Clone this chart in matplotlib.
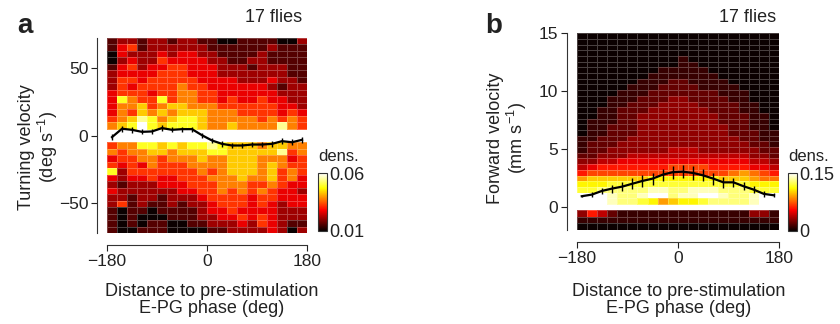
import numpy as np
import matplotlib
matplotlib.use('Agg')
import matplotlib.pyplot as plt

plt.rcParams['font.family'] = ['Liberation Sans', 'DejaVu Sans']
plt.rcParams['font.size'] = 13
plt.rcParams['mathtext.fontset'] = 'custom'
plt.rcParams['mathtext.rm'] = 'Liberation Sans'
plt.rcParams['mathtext.default'] = 'regular'
plt.rcParams['text.color'] = '#222222'
plt.rcParams['axes.labelcolor'] = '#222222'
plt.rcParams['xtick.color'] = '#222222'
plt.rcParams['ytick.color'] = '#222222'
plt.rcParams['xtick.labelsize'] = 12.5
plt.rcParams['ytick.labelsize'] = 12.5

# ---- data ----
phase = [-171, -153, -135, -117, -99, -81, -63, -45, -27, -9,
         9, 27, 45, 63, 81, 99, 117, 135, 153, 171]
phase_edges = [-180, -162, -144, -126, -108, -90, -72, -54, -36, -18, 0,
               18, 36, 54, 72, 90, 108, 126, 144, 162, 180]

# panel a: density levels, 0..9 spans 0.01..0.06, rows listed top -> bottom
turn_top_levels = [
    "12212212211001111002",
    "13412222221111112111",
    "03222323322111121111",
    "02322433332211221111",
    "13423344333222122211",
    "23333444333222222211",
    "24434444433332223221",
    "24344445443333332122",
    "34443445544333333222",
    "37544745544343343322",
    "35564566555444444332",
    "35465656665554444343",
    "45687567765555545454",
    "56797677765565555854",
]
turn_bottom_levels = [
    "45577676778766656655",
    "54556656667766666845",
    "34455455565566655534",
    "43435444555566656544",
    "72444444454566656454",
    "32334334445556556453",
    "21222333444555445433",
    "32222223344545454332",
    "22122122234444344333",
    "24121121223444343233",
    "10110111123343333222",
    "10100011122334343222",
    "10101100112223243211",
    "10011100001122223202",
]
turn_mean = [-1.2, 5.0, 4.2, 2.7, 3.0, 5.5, 4.2, 4.7, 4.7, 0.2,
             -3.7, -6.2, -7.4, -7.4, -6.7, -6.7, -6.2, -4.2, -5.0, -3.2]
turn_err = [2.0, 2.2, 2.0, 1.8, 1.8, 2.2, 1.8, 1.8, 1.8, 1.8,
            1.8, 2.0, 2.2, 2.2, 2.0, 2.0, 2.0, 2.0, 2.4, 2.0]

# panel b: density levels in hex, 0..f spans 0..0.15, rows listed top -> bottom
fwd_top_levels = [
    "00000000000000000000",
    "00000000000000000000",
    "00000000000000000000",
    "00000000000000000000",
    "00000000001000000000",
    "00000000001100000000",
    "00000000111110000000",
    "00000001111111000000",
    "00000011122111100000",
    "00000111222211110000",
    "00001112222222111000",
    "00011122233222211000",
    "00011222333322221100",
    "00112223333332221100",
    "00112233333333222110",
    "01112233333333222110",
    "01122233333333322110",
    "01122233333333322211",
    "11222333333333332211",
    "12223333333333333221",
    "12233333344433333322",
    "22333444444444444332",
    "33445555555555555443",
    "45666666677776666554",
    "67777777777777789876",
    "9aaaaaabbbbbbbaaa988",
    "bbbccccccccccccccbbb",
    "ccdddddeeddeeedddccc",
    "fffeddeffdeeffeddeff",
    "fffeddcb9abbcddddeff",
]
fwd_bottom_levels = [
    "36421111111111111331",
    "11111111111111111111",
    "00000000000000000000",
]
fwd_mean = [0.92, 1.06, 1.38, 1.58, 1.75, 2.0, 2.24, 2.44, 2.78, 3.0,
            3.04, 2.93, 2.72, 2.44, 2.12, 2.12, 1.78, 1.49, 1.12, 1.0]
fwd_err = [0.1, 0.23, 0.29, 0.34, 0.4, 0.46, 0.52, 0.52, 0.52, 0.57,
           0.57, 0.57, 0.52, 0.52, 0.46, 0.4, 0.34, 0.29, 0.23, 0.17]


def levels_to_dens(rows, lo, hi, nlev):
    lv = np.array([[int(c, 16) for c in r] for r in rows], dtype=float)
    return lo + lv / (nlev - 1) * (hi - lo)


def style_axes(ax):
    for s in ['top', 'right']:
        ax.spines[s].set_visible(False)
    ax.spines['left'].set_position(('outward', 7))
    ax.spines['bottom'].set_position(('outward', 8.5))
    for s in ['left', 'bottom']:
        ax.spines[s].set_linewidth(0.8)
        ax.spines[s].set_color('#333333')
    ax.tick_params(direction='out', length=4.5, width=0.8, pad=2)
    ax.set_xticks([-180, 0, 180])


def add_cbar(fig, mesh, rect, ticks, labels):
    cax = fig.add_axes(rect)
    cb = fig.colorbar(mesh, cax=cax, ticks=ticks)
    cb.ax.set_yticklabels(labels)
    cb.ax.tick_params(length=0, pad=1.5, labelsize=13)
    cb.outline.set_linewidth(0.8)
    cb.outline.set_edgecolor('#333333')
    return cb


fig = plt.figure(figsize=(8.4, 3.24), dpi=100)
W, H = 840.0, 324.0
grid_kw = dict(cmap='hot', shading='flat', edgecolors=(1, 1, 1, 0.25), linewidth=0.4)

# ---- panel a ----
ax1 = fig.add_axes([107 / W, 1 - 233.3 / H, 200 / W, 195.6 / H])
va, vb = 0.01, 0.06
m1 = ax1.pcolormesh(phase_edges, np.linspace(72.5, 5, 15),
                    levels_to_dens(turn_top_levels, va, vb, 10), vmin=va, vmax=vb, **grid_kw)
ax1.pcolormesh(phase_edges, np.linspace(-5, -72.5, 15),
               levels_to_dens(turn_bottom_levels, va, vb, 10), vmin=va, vmax=vb, **grid_kw)
ax1.errorbar(phase, turn_mean, yerr=turn_err, color='black', lw=1.6,
             elinewidth=1.0, capsize=0)
ax1.set_xlim(-180, 180)
ax1.set_ylim(-72.5, 72.5)
ax1.set_yticks([-50, 0, 50])
style_axes(ax1)
fig.text(212 / W, 1 - 300 / H, 'Distance to pre-stimulation\nE-PG phase (deg)',
         ha='center', va='center', linespacing=1.05)
fig.text(39 / W, 1 - 147 / H, 'Turning velocity\n(deg s$^{-1}$)', rotation=90,
         ha='center', va='center', linespacing=1.05)
fig.text(302 / W, 1 - 22 / H, '17 flies', ha='right', va='baseline')
fig.text(17 / W, 1 - 33 / H, 'a', fontsize=20, fontweight='bold', va='baseline')
fig.text(318 / W, 1 - 161 / H, 'dens.', va='baseline', fontsize=12)
add_cbar(fig, m1, [318.3 / W, 1 - 230.7 / H, 8.4 / W, 57.4 / H], [va, vb], ['0.01', '0.06'])

# ---- panel b ----
ax2 = fig.add_axes([576.7 / W, 1 - 230 / H, 202.3 / W, 196.7 / H])
fa, fb = 0.0, 0.15
m2 = ax2.pcolormesh(phase_edges, np.linspace(15, 0.25, 31),
                    levels_to_dens(fwd_top_levels, fa, fb, 16), vmin=fa, vmax=fb, **grid_kw)
ax2.pcolormesh(phase_edges, np.linspace(-0.25, -2, 4),
               levels_to_dens(fwd_bottom_levels, fa, fb, 16), vmin=fa, vmax=fb, **grid_kw)
ax2.errorbar(phase, fwd_mean, yerr=fwd_err, color='black', lw=1.6,
             elinewidth=1.0, capsize=0)
ax2.set_xlim(-180, 180)
ax2.set_ylim(-2, 15)
ax2.set_yticks([0, 5, 10, 15])
style_axes(ax2)
fig.text(679 / W, 1 - 300 / H, 'Distance to pre-stimulation\nE-PG phase (deg)',
         ha='center', va='center', linespacing=1.05)
fig.text(508 / W, 1 - 138 / H, 'Forward velocity\n(mm s$^{-1}$)', rotation=90,
         ha='center', va='center', linespacing=1.05)
fig.text(776 / W, 1 - 22 / H, '17 flies', ha='right', va='baseline')
fig.text(485 / W, 1 - 33 / H, 'b', fontsize=20, fontweight='bold', va='baseline')
fig.text(788 / W, 1 - 161 / H, 'dens.', va='baseline', fontsize=12)
add_cbar(fig, m2, [788.3 / W, 1 - 230.7 / H, 8.4 / W, 57.4 / H], [fa, fb], ['0', '0.15'])

fig.savefig('out.png', dpi=100)
